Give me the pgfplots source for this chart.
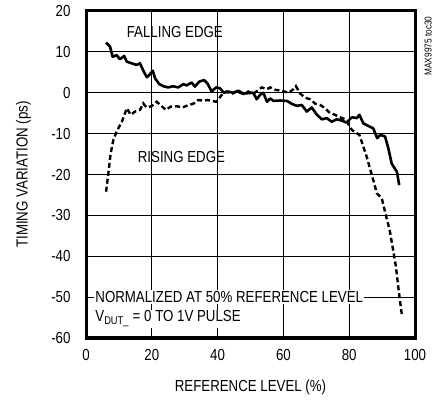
\documentclass[border=0pt]{standalone}
\usepackage{pgfplots}
\pgfplotsset{compat=1.18}
\usepackage{fontspec}
\setmainfont{Liberation Sans}[FakeStretch=0.83]

\begin{document}
\fontsize{16bp}{19bp}\selectfont
\begin{tikzpicture}
\useasboundingbox (0,0) rectangle (435bp,401bp);
\begin{axis}[
at={(86bp,63bp)}, anchor=south west,
scale only axis,
width=329bp, height=327bp,
xmin=0, xmax=100,
ymin=-60, ymax=20,
xtick={0,20,...,100},
ytick={-60,-50,...,20},
grid=major,
major grid style={black, line width=0.8bp},
major tick length=0pt,
axis line style={line width=3bp},
/pgf/number format/assume math mode=true,
ticklabel style={font=\fontsize{16bp}{19bp}\selectfont},
yticklabel style={xshift=-10bp},
xticklabel style={yshift=-6bp},
xlabel={REFERENCE LEVEL (\%)},
ylabel={TIMING VARIATION (ps)},
label style={font=\fontsize{16bp}{19bp}\selectfont},
xlabel style={at={(axis description cs:0.5,-0.15)}, anchor=center},
ylabel style={at={(axis description cs:-0.19,0.5)}, anchor=center},
clip=false,
]
% Falling edge
\addplot[black, line width=2.6bp, line join=round] coordinates {
(6.1,12.3)(7.3,11.3)(8.1,8.8)(9.3,9.2)(10.3,8.2)(11.6,9.0)(12.4,7.6)(13.9,7.2)
(15.4,6.8)(16.4,7.2)(17.6,5.1)(18.5,3.8)(19.2,4.3)(20.3,5.4)(21.0,3.5)(22.3,2.1)
(23.5,1.6)(25.0,1.3)(26.5,1.6)(28.0,1.3)(29.6,2.1)(30.6,1.8)(32.1,2.5)(33.1,1.5)
(34.4,2.7)(35.9,3.1)(36.9,2.3)(38.2,0.3)(39.5,1.3)(40.7,1.1)(41.9,0)(43.2,0.3)
(44.7,0)(46.3,0.5)(47.8,-0.2)(50.8,0)(51.9,-1.6)(52.9,-0.5)(53.9,0)(55.0,-2.2)
(56.0,-1.4)(57.0,-2.0)(59.0,-1.9)(61.1,-2.0)(62.5,-2.7)(64.1,-3.2)(65.6,-3.0)
(67.1,-4.6)(68.6,-3.6)(70.2,-5.4)(71.7,-6.5)(73.2,-6.2)(74.7,-7.1)(76.2,-6.5)
(77.7,-6.8)(79.2,-7.3)(80.8,-6.0)(82.3,-6.2)(83.1,-5.4)(84.3,-7.5)(85.8,-8.1)
(87.3,-8.7)(88.5,-11.1)(89.5,-10.3)(90.9,-10.7)(91.9,-13.6)(92.9,-17.3)
(93.5,-18.1)(94.5,-19.3)(95.2,-22.6)
};
% Rising edge
\addplot[black, line width=2.4bp, dash pattern=on 5bp off 3bp] coordinates {
(6.1,-24.2)(6.8,-19.7)(7.5,-14.8)(8.3,-11.6)(9.3,-9.5)(10.9,-7.1)(12.4,-3.8)
(13.6,-5.4)(14.9,-4.6)(16.4,-4.2)(17.4,-2.6)(18.4,-3.6)(19.9,-3.3)(21.5,-2.2)
(23.0,-3.3)(24.3,-4.2)(25.7,-3.4)(27.6,-3.3)(29.4,-3.6)(31.1,-3.0)(32.6,-2.7)
(34.1,-1.8)(35.6,-1.9)(37.1,-1.8)(39.6,-2.2)(41.2,-0.6)(42.7,0.3)(44.3,-0.3)
(45.8,0.3)(47.8,-0.3)(49.3,0.3)(50.8,-0.3)(52.4,0.7)(53.4,1.3)(55.0,0.9)
(56.0,1.3)(57.6,0.7)(59.6,0.5)(61.6,0)(63.1,0.9)(63.8,1.6)(65.1,-0.2)(66.6,-1.2)
(68.1,-1.6)(69.7,-2.7)(71.2,-3.0)(72.7,-3.8)(74.2,-5.0)(75.7,-5.4)(77.2,-6.0)
(78.8,-6.5)(79.7,-7.6)(80.8,-9.1)(82.1,-9.8)(83.1,-10.3)(84.3,-13.2)(85.3,-15.6)
(86.3,-18.5)(87.3,-21.3)(88.4,-24.6)(89.9,-25.8)(91.0,-29.5)(92.3,-33.6)
(93.5,-39.2)(94.2,-42.5)(94.9,-47.4)(95.4,-50.7)(96.0,-54.3)
};
\node[font=\fontsize{16bp}{19bp}\selectfont] at (axis cs:27,14.9) {FALLING EDGE};
\node[font=\fontsize{16bp}{19bp}\selectfont] at (axis cs:29,-15.6) {RISING EDGE};
\node[fill=white, inner sep=1bp, anchor=west, font=\fontsize{16bp}{19bp}\selectfont] at (axis cs:2.5,-50) {NORMALIZED AT 50\% REFERENCE LEVEL};
\node[fill=white, inner sep=1bp, anchor=west, font=\fontsize{16bp}{19bp}\selectfont] at (axis cs:2.5,-55.3) {V\textsubscript{DUT\_} = 0 TO 1V PULSE};
\node[rotate=90, anchor=east, font=\fontsize{10bp}{12bp}\selectfont] at (axis description cs:1.04,1.0) {MAX9975 toc30};
\end{axis}
\end{tikzpicture}
\end{document}
